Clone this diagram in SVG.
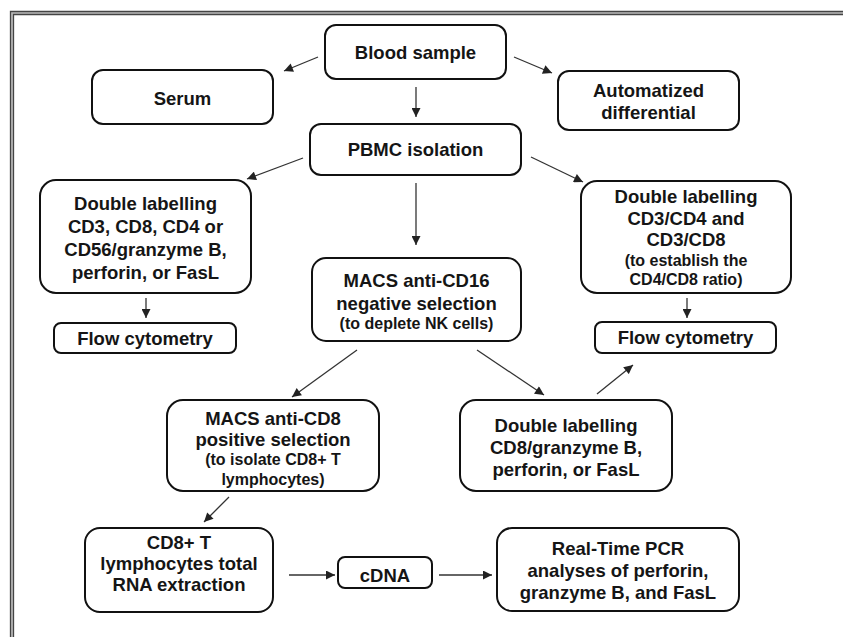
<svg xmlns="http://www.w3.org/2000/svg" width="843" height="637" viewBox="0 0 843 637">
<defs>
<marker id="ah" viewBox="0 0 10 10" refX="10" refY="5" markerWidth="10" markerHeight="9" markerUnits="userSpaceOnUse" orient="auto">
<path d="M0,0 L10,5 L0,10 z" fill="#222"/>
</marker>
</defs>
<style>
.box{fill:#fff;stroke:#111;stroke-width:2}
.t{font-family:"Liberation Sans",Arial,sans-serif;font-weight:bold;font-size:18.5px;fill:#151515;text-anchor:middle}
.s{font-size:16px}
.c{stroke:#333;stroke-width:1.3;fill:none;marker-end:url(#ah)}
.frame{fill:none;stroke:#444;stroke-width:1.3}
</style>
<rect width="843" height="637" fill="#fff"/>
<g id="frame">
<path d="M12,640 V13 H845" fill="none" stroke="#bbb" stroke-width="3"/>
<path class="frame" d="M10.5,640 V11.5 H845"/>
<path class="frame" d="M13.5,640 V14.5 H845"/>
</g>
<g id="connectors">
<line class="c" x1="318" y1="57" x2="284" y2="71"/>
<line class="c" x1="514" y1="57" x2="552" y2="73"/>
<line class="c" x1="416" y1="87" x2="416" y2="117"/>
<line class="c" x1="303" y1="158" x2="247" y2="179"/>
<line class="c" x1="531" y1="157" x2="583" y2="182"/>
<line class="c" x1="416" y1="183" x2="416" y2="245"/>
<line class="c" x1="146" y1="298" x2="146" y2="318"/>
<line class="c" x1="687" y1="298" x2="687" y2="318"/>
<line class="c" x1="357" y1="350" x2="292" y2="397"/>
<line class="c" x1="477" y1="350" x2="544" y2="395"/>
<line class="c" x1="597" y1="394" x2="633" y2="365"/>
<line class="c" x1="229" y1="497" x2="204" y2="522"/>
<line class="c" x1="289" y1="575" x2="335" y2="575"/>
<line class="c" x1="439" y1="575" x2="492" y2="575"/>
</g>
<g id="blood">
<rect class="box" x="325" y="25" width="181" height="54" rx="11"/>
<text class="t" x="415.5" y="58.5">Blood sample</text>
</g>
<g id="serum">
<rect class="box" x="92" y="70" width="181" height="54" rx="11"/>
<text class="t" x="182.5" y="104.5">Serum</text>
</g>
<g id="auto">
<rect class="box" x="558" y="71" width="181" height="59" rx="11"/>
<text class="t" x="648.5" y="96.5">Automatized</text>
<text class="t" x="648.5" y="118.5">differential</text>
</g>
<g id="pbmc">
<rect class="box" x="310" y="124" width="211" height="51" rx="11"/>
<text class="t" x="415.5" y="155.5">PBMC isolation</text>
</g>
<g id="dl-left">
<rect class="box" x="40" y="180" width="211" height="113" rx="16"/>
<text class="t" x="145.5" y="209.5">Double labelling</text>
<text class="t" x="145.5" y="232.5">CD3, CD8, CD4 or</text>
<text class="t" x="145.5" y="255.5">CD56/granzyme B,</text>
<text class="t" x="145.5" y="278.5">perforin, or FasL</text>
</g>
<g id="dl-right">
<rect class="box" x="581" y="181" width="210" height="112" rx="16"/>
<text class="t" x="686" y="202.5">Double labelling</text>
<text class="t" x="686" y="224.5">CD3/CD4 and</text>
<text class="t" x="686" y="245.5">CD3/CD8</text>
<text class="t s" x="686" y="265.5">(to establish the</text>
<text class="t s" x="686" y="284.5">CD4/CD8 ratio)</text>
</g>
<g id="flow-left">
<rect class="box" x="54" y="323" width="182" height="30" rx="7"/>
<text class="t" x="145" y="344.5">Flow cytometry</text>
</g>
<g id="flow-right">
<rect class="box" x="595" y="322" width="181" height="31" rx="7"/>
<text class="t" x="685.5" y="344">Flow cytometry</text>
</g>
<g id="macs16">
<rect class="box" x="312" y="258" width="209" height="83" rx="14"/>
<text class="t" x="416.5" y="286.5">MACS anti-CD16</text>
<text class="t" x="416.5" y="309.5">negative selection</text>
<text class="t s" x="416.5" y="328.5">(to deplete NK cells)</text>
</g>
<g id="macs8">
<rect class="box" x="167" y="400" width="212" height="91" rx="16"/>
<text class="t" x="273" y="424.5">MACS anti-CD8</text>
<text class="t" x="273" y="445.5">positive selection</text>
<text class="t s" x="273" y="464.5">(to isolate CD8+ T</text>
<text class="t s" x="273" y="484.5">lymphocytes)</text>
</g>
<g id="dl-cd8">
<rect class="box" x="460" y="400" width="212" height="91" rx="16"/>
<text class="t" x="566" y="431.5">Double labelling</text>
<text class="t" x="566" y="453.5">CD8/granzyme B,</text>
<text class="t" x="566" y="475.5">perforin, or FasL</text>
</g>
<g id="rna">
<rect class="box" x="85" y="528" width="188" height="84" rx="15"/>
<text class="t" x="179" y="548.5">CD8+ T</text>
<text class="t" x="179" y="569.5">lymphocytes total</text>
<text class="t" x="179" y="590.5">RNA extraction</text>
</g>
<g id="cdna">
<rect class="box" x="338" y="557" width="94" height="31" rx="7"/>
<text class="t" x="385" y="581.5">cDNA</text>
</g>
<g id="pcr">
<rect class="box" x="497" y="528" width="242" height="83" rx="15"/>
<text class="t" x="618" y="554.5">Real-Time PCR</text>
<text class="t" x="618" y="576.5">analyses of perforin,</text>
<text class="t" x="618" y="598.5">granzyme B, and FasL</text>
</g>
</svg>
